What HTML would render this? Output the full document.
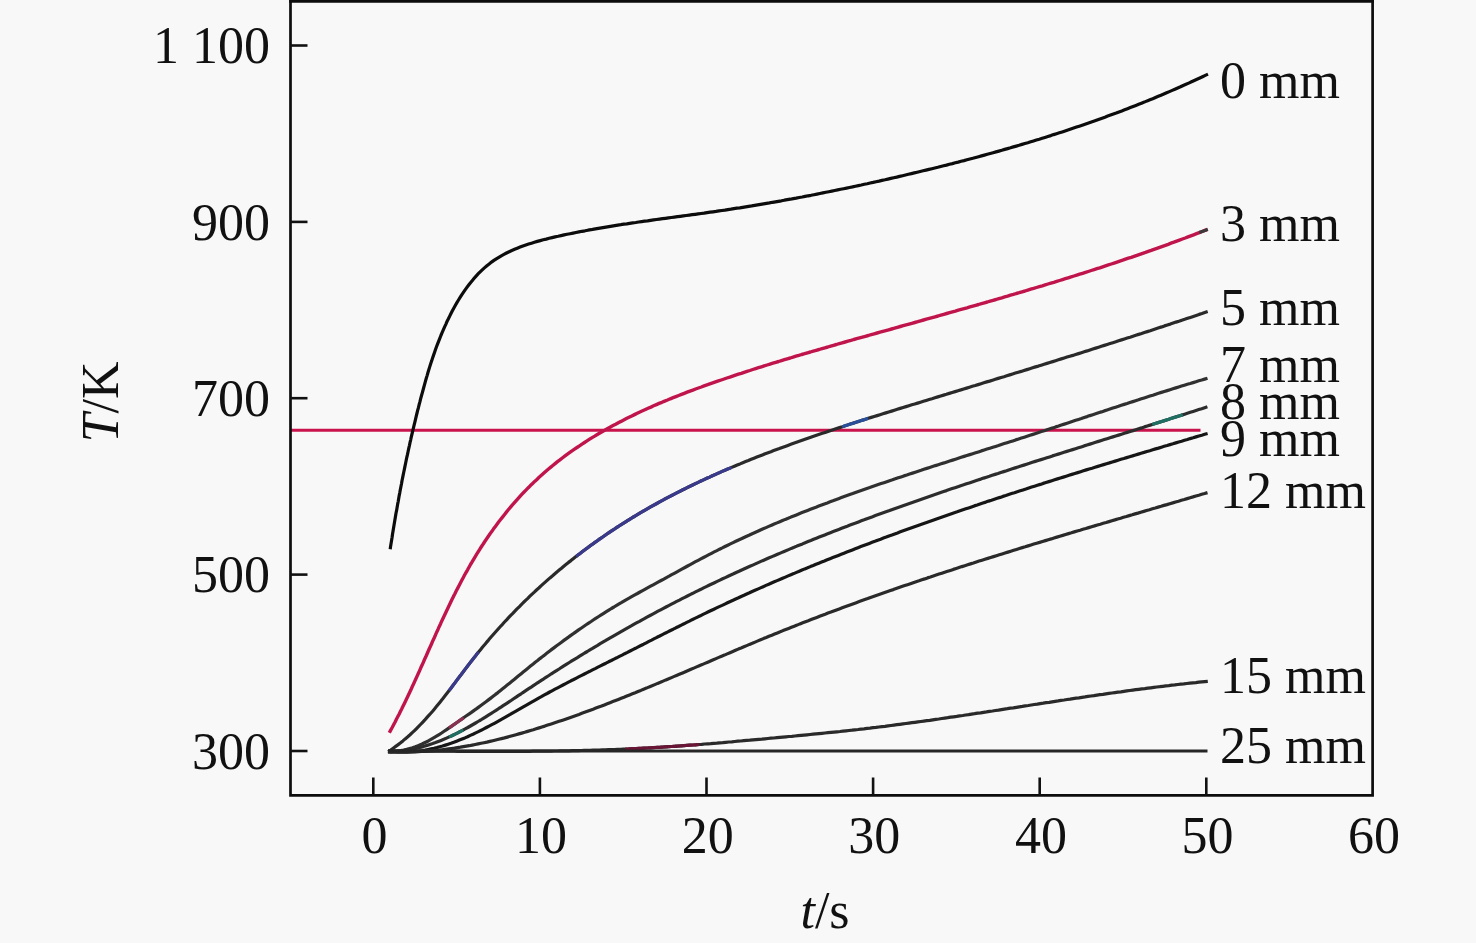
<!DOCTYPE html>
<html><head><meta charset="utf-8"><title>T-t curves</title>
<style>
html,body{margin:0;padding:0;background:#f8f8f8;}
body{width:1476px;height:943px;overflow:hidden;}
svg{display:block;}
text{font-family:"Liberation Serif","Times New Roman",serif;font-size:52px;fill:#111;}
</style></head><body>
<svg width="1476" height="943" viewBox="0 0 1476 943">
<rect width="1476" height="943" fill="#f8f8f8"/>
<g fill="none" stroke-linecap="butt" stroke-linejoin="round">
<path d="M290 430.2 H1200.5" stroke="#c9134d" stroke-width="3"/>
<path d="M390.2 549.3 L390.6 546.3 L391.1 543.3 L391.6 540.3 L392.1 537.3 L392.5 534.3 L393.0 531.3 L393.5 528.3 L394.0 525.3 L394.5 522.3 L395.0 519.3 L395.5 516.3 L396.0 513.3 L396.6 510.4 L397.1 507.4 L397.6 504.4 L398.2 501.5 L398.7 498.5 L399.2 495.6 L399.8 492.6 L400.3 489.7 L400.9 486.7 L401.5 483.8 L402.0 480.8 L402.6 477.9 L403.2 474.9 L403.8 472.0 L404.4 469.1 L405.0 466.1 L405.6 463.2 L406.2 460.3 L406.8 457.3 L407.5 454.4 L408.1 451.5 L408.7 448.6 L409.4 445.6 L410.0 442.7 L410.7 439.8 L411.3 436.9 L412.0 434.0 L412.7 431.0 L413.4 428.1 L414.1 425.2 L414.8 422.3 L415.5 419.4 L416.2 416.4 L416.9 413.5 L417.6 410.6 L418.4 407.7 L419.1 404.8 L419.9 401.9 L420.6 398.9 L421.4 396.0 L422.2 393.1 L423.0 390.2 L423.8 387.3 L424.6 384.3 L425.4 381.4 L426.2 378.5 L427.1 375.6 L427.9 372.7 L428.8 369.8 L429.7 366.9 L430.6 364.0 L431.6 361.1 L432.5 358.2 L433.5 355.4 L434.5 352.5 L435.5 349.6 L436.5 346.8 L437.6 343.9 L438.7 341.1 L439.8 338.3 L440.9 335.5 L442.1 332.7 L443.3 329.9 L444.5 327.1 L445.8 324.3 L447.0 321.5 L448.4 318.8 L449.7 316.1 L451.1 313.3 L452.5 310.6 L453.9 308.0 L455.4 305.3 L456.9 302.6 L458.5 300.0 L460.1 297.4 L461.7 294.9 L463.4 292.4 L465.1 289.9 L466.9 287.4 L468.7 285.0 L470.5 282.7 L472.4 280.4 L474.3 278.1 L476.3 275.9 L478.3 273.7 L480.4 271.6 L482.5 269.6 L484.7 267.6 L486.9 265.7 L489.2 263.9 L491.5 262.1 L493.9 260.4 L496.3 258.8 L498.8 257.3 L501.3 255.8 L503.9 254.4 L506.5 253.0 L509.2 251.7 L511.8 250.5 L514.6 249.3 L517.3 248.2 L520.1 247.1 L522.9 246.0 L525.8 245.0 L528.6 244.1 L531.5 243.2 L534.4 242.3 L537.3 241.4 L540.3 240.6 L543.2 239.8 L546.2 239.1 L549.2 238.3 L552.1 237.6 L555.1 236.9 L558.1 236.3 L561.1 235.6 L564.1 234.9 L567.1 234.3 L570.1 233.7 L573.1 233.1 L576.0 232.5 L579.0 231.9 L582.0 231.3 L585.0 230.8 L588.0 230.2 L591.0 229.7 L594.0 229.1 L596.9 228.6 L599.9 228.1 L602.9 227.6 L605.9 227.1 L608.9 226.6 L611.9 226.1 L614.8 225.6 L617.8 225.1 L620.8 224.7 L623.8 224.2 L626.8 223.8 L629.7 223.3 L632.7 222.9 L635.7 222.5 L638.7 222.0 L641.6 221.6 L644.6 221.2 L647.6 220.8 L650.6 220.3 L653.6 219.9 L656.5 219.5 L659.5 219.1 L662.5 218.7 L665.5 218.3 L668.4 217.9 L671.4 217.5 L674.4 217.1 L677.4 216.7 L680.3 216.3 L683.3 215.9 L686.3 215.5 L689.3 215.1 L692.2 214.7 L695.2 214.3 L698.2 213.9 L701.2 213.5 L704.1 213.1 L707.1 212.6 L710.1 212.2 L713.1 211.8 L716.0 211.4 L719.0 210.9 L722.0 210.5 L724.9 210.1 L727.9 209.6 L730.9 209.2 L733.9 208.7 L736.8 208.2 L739.8 207.8 L742.8 207.3 L745.7 206.8 L748.7 206.3 L751.7 205.9 L754.7 205.4 L757.6 204.9 L760.6 204.4 L763.6 203.9 L766.5 203.4 L769.5 202.9 L772.5 202.3 L775.5 201.8 L778.4 201.3 L781.4 200.8 L784.4 200.2 L787.3 199.7 L790.3 199.2 L793.3 198.6 L796.2 198.1 L799.2 197.5 L802.2 197.0 L805.1 196.4 L808.1 195.8 L811.0 195.3 L814.0 194.7 L817.0 194.1 L819.9 193.5 L822.9 192.9 L825.9 192.3 L828.8 191.7 L831.8 191.1 L834.7 190.5 L837.7 189.9 L840.6 189.3 L843.6 188.7 L846.6 188.1 L849.5 187.5 L852.5 186.9 L855.4 186.2 L858.4 185.6 L861.3 185.0 L864.3 184.3 L867.2 183.7 L870.2 183.0 L873.1 182.4 L876.1 181.7 L879.0 181.1 L882.0 180.4 L884.9 179.8 L887.9 179.1 L890.8 178.4 L893.7 177.7 L896.7 177.1 L899.6 176.4 L902.6 175.7 L905.5 175.0 L908.4 174.3 L911.4 173.6 L914.3 172.9 L917.2 172.2 L920.2 171.5 L923.1 170.8 L926.0 170.1 L929.0 169.4 L931.9 168.7 L934.8 168.0 L937.8 167.3 L940.7 166.5 L943.6 165.8 L946.5 165.1 L949.4 164.3 L952.4 163.6 L955.3 162.8 L958.2 162.1 L961.1 161.3 L964.0 160.6 L966.9 159.8 L969.9 159.0 L972.8 158.3 L975.7 157.5 L978.6 156.7 L981.5 155.9 L984.4 155.1 L987.3 154.3 L990.2 153.5 L993.1 152.7 L996.0 151.9 L998.9 151.1 L1001.8 150.3 L1004.7 149.4 L1007.6 148.6 L1010.5 147.8 L1013.4 146.9 L1016.3 146.1 L1019.1 145.3 L1022.0 144.4 L1024.9 143.5 L1027.8 142.7 L1030.7 141.8 L1033.5 140.9 L1036.4 140.0 L1039.3 139.2 L1042.2 138.3 L1045.0 137.4 L1047.9 136.5 L1050.8 135.6 L1053.6 134.6 L1056.5 133.7 L1059.4 132.8 L1062.2 131.9 L1065.1 130.9 L1067.9 130.0 L1070.8 129.0 L1073.6 128.1 L1076.5 127.1 L1079.3 126.2 L1082.2 125.2 L1085.0 124.2 L1087.9 123.2 L1090.7 122.2 L1093.6 121.2 L1096.4 120.2 L1099.2 119.2 L1102.1 118.2 L1104.9 117.2 L1107.7 116.1 L1110.5 115.1 L1113.4 114.0 L1116.2 113.0 L1119.0 111.9 L1121.8 110.9 L1124.6 109.8 L1127.5 108.7 L1130.3 107.6 L1133.1 106.5 L1135.9 105.4 L1138.7 104.3 L1141.5 103.2 L1144.3 102.1 L1147.1 100.9 L1149.9 99.8 L1152.7 98.7 L1155.5 97.5 L1158.3 96.3 L1161.0 95.2 L1163.8 94.0 L1166.6 92.8 L1169.4 91.6 L1172.2 90.4 L1174.9 89.2 L1177.7 88.0 L1180.5 86.8 L1183.2 85.5 L1186.0 84.3 L1188.7 83.1 L1191.5 81.8 L1194.3 80.5 L1197.0 79.3 L1199.8 78.0 L1202.5 76.7 L1205.3 75.4 L1208.0 74.1" stroke="#0c0c0c" stroke-width="3.2"/>
<path d="M389.3 732.8 L390.7 730.1 L392.2 727.5 L393.6 724.8 L395.0 722.2 L396.3 719.5 L397.7 716.8 L399.1 714.2 L400.4 711.5 L401.8 708.8 L403.1 706.1 L404.4 703.4 L405.7 700.7 L407.0 698.0 L408.3 695.2 L409.6 692.5 L410.9 689.8 L412.1 687.0 L413.4 684.3 L414.6 681.6 L415.9 678.8 L417.1 676.1 L418.4 673.3 L419.6 670.6 L420.8 667.8 L422.1 665.1 L423.3 662.3 L424.5 659.5 L425.8 656.8 L427.0 654.0 L428.2 651.3 L429.4 648.5 L430.7 645.7 L431.9 643.0 L433.1 640.2 L434.4 637.5 L435.6 634.7 L436.8 631.9 L438.1 629.2 L439.3 626.4 L440.6 623.7 L441.8 620.9 L443.1 618.2 L444.4 615.5 L445.7 612.7 L447.0 610.0 L448.3 607.3 L449.6 604.6 L450.9 601.8 L452.2 599.1 L453.5 596.4 L454.9 593.7 L456.2 591.0 L457.6 588.4 L459.0 585.7 L460.4 583.0 L461.8 580.3 L463.2 577.7 L464.6 575.0 L466.1 572.4 L467.6 569.8 L469.0 567.2 L470.5 564.5 L472.1 561.9 L473.6 559.3 L475.1 556.8 L476.7 554.2 L478.3 551.6 L479.9 549.1 L481.5 546.5 L483.2 544.0 L484.8 541.5 L486.5 539.0 L488.2 536.5 L489.9 534.0 L491.7 531.6 L493.4 529.1 L495.2 526.7 L497.0 524.3 L498.8 521.8 L500.6 519.5 L502.5 517.1 L504.4 514.7 L506.2 512.4 L508.1 510.0 L510.1 507.7 L512.0 505.4 L514.0 503.2 L516.0 500.9 L518.0 498.7 L520.0 496.4 L522.0 494.2 L524.1 492.0 L526.2 489.9 L528.3 487.7 L530.4 485.6 L532.6 483.5 L534.7 481.4 L536.9 479.4 L539.1 477.3 L541.4 475.3 L543.6 473.3 L545.9 471.3 L548.2 469.3 L550.5 467.4 L552.8 465.5 L555.1 463.6 L557.5 461.7 L559.9 459.9 L562.3 458.0 L564.7 456.2 L567.1 454.4 L569.5 452.7 L572.0 450.9 L574.5 449.2 L577.0 447.5 L579.5 445.8 L582.0 444.1 L584.5 442.5 L587.0 440.9 L589.6 439.2 L592.1 437.6 L594.7 436.1 L597.3 434.5 L599.9 433.0 L602.5 431.5 L605.1 430.0 L607.7 428.5 L610.4 427.0 L613.0 425.6 L615.7 424.2 L618.3 422.7 L621.0 421.4 L623.7 420.0 L626.4 418.6 L629.0 417.3 L631.8 415.9 L634.5 414.6 L637.2 413.3 L639.9 412.0 L642.6 410.8 L645.4 409.5 L648.1 408.3 L650.9 407.1 L653.6 405.8 L656.4 404.6 L659.1 403.4 L661.9 402.3 L664.7 401.1 L667.5 400.0 L670.3 398.8 L673.1 397.7 L675.9 396.6 L678.7 395.5 L681.5 394.4 L684.3 393.3 L687.1 392.2 L690.0 391.1 L692.8 390.1 L695.6 389.0 L698.4 388.0 L701.3 387.0 L704.1 385.9 L707.0 384.9 L709.8 383.9 L712.7 382.9 L715.5 381.9 L718.4 380.9 L721.2 380.0 L724.1 379.0 L726.9 378.0 L729.8 377.1 L732.7 376.1 L735.5 375.1 L738.4 374.2 L741.3 373.3 L744.1 372.3 L747.0 371.4 L749.9 370.5 L752.7 369.5 L755.6 368.6 L758.5 367.7 L761.4 366.8 L764.2 365.9 L767.1 365.0 L770.0 364.1 L772.9 363.2 L775.8 362.3 L778.6 361.5 L781.5 360.6 L784.4 359.7 L787.3 358.8 L790.2 358.0 L793.1 357.1 L795.9 356.2 L798.8 355.4 L801.7 354.5 L804.6 353.7 L807.5 352.8 L810.4 352.0 L813.3 351.1 L816.2 350.3 L819.1 349.5 L822.0 348.6 L824.9 347.8 L827.8 347.0 L830.7 346.1 L833.5 345.3 L836.4 344.5 L839.3 343.6 L842.2 342.8 L845.1 342.0 L848.0 341.2 L850.9 340.4 L853.8 339.5 L856.7 338.7 L859.6 337.9 L862.5 337.1 L865.4 336.3 L868.3 335.5 L871.2 334.6 L874.2 333.8 L877.1 333.0 L880.0 332.2 L882.9 331.4 L885.8 330.6 L888.7 329.8 L891.6 329.0 L894.5 328.2 L897.4 327.3 L900.3 326.5 L903.2 325.7 L906.1 324.9 L909.0 324.1 L911.9 323.3 L914.8 322.5 L917.7 321.7 L920.6 320.8 L923.5 320.0 L926.4 319.2 L929.3 318.4 L932.2 317.6 L935.1 316.8 L938.0 316.0 L940.9 315.1 L943.8 314.3 L946.7 313.5 L949.6 312.7 L952.5 311.9 L955.4 311.1 L958.3 310.2 L961.2 309.4 L964.1 308.6 L967.0 307.8 L969.9 306.9 L972.8 306.1 L975.7 305.3 L978.6 304.5 L981.5 303.6 L984.4 302.8 L987.3 302.0 L990.2 301.1 L993.1 300.3 L996.0 299.5 L998.9 298.6 L1001.8 297.8 L1004.7 296.9 L1007.6 296.1 L1010.5 295.2 L1013.4 294.4 L1016.3 293.5 L1019.2 292.7 L1022.1 291.8 L1025.0 291.0 L1027.8 290.1 L1030.7 289.2 L1033.6 288.4 L1036.5 287.5 L1039.4 286.6 L1042.3 285.8 L1045.2 284.9 L1048.0 284.0 L1050.9 283.1 L1053.8 282.3 L1056.7 281.4 L1059.6 280.5 L1062.5 279.6 L1065.3 278.7 L1068.2 277.8 L1071.1 276.9 L1074.0 276.0 L1076.8 275.1 L1079.7 274.2 L1082.6 273.3 L1085.5 272.4 L1088.3 271.5 L1091.2 270.5 L1094.1 269.6 L1096.9 268.7 L1099.8 267.8 L1102.7 266.8 L1105.5 265.9 L1108.4 264.9 L1111.3 264.0 L1114.1 263.1 L1117.0 262.1 L1119.8 261.1 L1122.7 260.2 L1125.5 259.2 L1128.4 258.2 L1131.3 257.3 L1134.1 256.3 L1137.0 255.3 L1139.8 254.3 L1142.7 253.3 L1145.5 252.4 L1148.3 251.4 L1151.2 250.4 L1154.0 249.3 L1156.9 248.3 L1159.7 247.3 L1162.5 246.3 L1165.4 245.3 L1168.2 244.3 L1171.0 243.2 L1173.9 242.2 L1176.7 241.1 L1179.5 240.1 L1182.4 239.0 L1185.2 238.0 L1188.0 236.9 L1190.8 235.8 L1193.6 234.8 L1196.5 233.7 L1199.3 232.6 L1202.1 231.5 L1204.9 230.4 L1207.7 229.3" stroke="#c0154c" stroke-width="3.4"/>
<path d="M388.2 751.7 L390.7 750.0 L393.2 748.2 L395.7 746.4 L398.2 744.6 L400.6 742.8 L402.9 740.9 L405.2 738.9 L407.5 737.0 L409.8 735.0 L412.0 732.9 L414.2 730.9 L416.3 728.8 L418.4 726.7 L420.5 724.5 L422.6 722.3 L424.6 720.2 L426.6 717.9 L428.6 715.7 L430.6 713.5 L432.6 711.2 L434.5 708.9 L436.4 706.6 L438.3 704.3 L440.2 701.9 L442.1 699.6 L443.9 697.2 L445.8 694.8 L447.6 692.5 L449.5 690.1 L451.3 687.7 L453.1 685.3 L454.9 682.9 L456.7 680.4 L458.5 678.0 L460.4 675.6 L462.2 673.2 L464.0 670.8 L465.8 668.4 L467.6 666.0 L469.5 663.6 L471.3 661.2 L473.2 658.8 L475.1 656.4 L476.9 654.1 L478.8 651.7 L480.7 649.4 L482.6 647.0 L484.6 644.7 L486.5 642.4 L488.5 640.1 L490.4 637.8 L492.4 635.5 L494.4 633.2 L496.4 631.0 L498.4 628.7 L500.4 626.5 L502.5 624.3 L504.5 622.0 L506.6 619.8 L508.6 617.6 L510.7 615.4 L512.8 613.3 L514.9 611.1 L517.0 608.9 L519.2 606.8 L521.3 604.7 L523.4 602.5 L525.6 600.4 L527.8 598.3 L529.9 596.2 L532.1 594.1 L534.3 592.1 L536.5 590.0 L538.8 588.0 L541.0 585.9 L543.2 583.9 L545.5 581.9 L547.7 579.9 L550.0 577.9 L552.3 576.0 L554.6 574.0 L556.9 572.0 L559.2 570.1 L561.5 568.2 L563.8 566.2 L566.2 564.3 L568.5 562.4 L570.9 560.6 L573.2 558.7 L575.6 556.8 L578.0 555.0 L580.4 553.2 L582.8 551.3 L585.2 549.5 L587.6 547.7 L590.0 545.9 L592.5 544.2 L594.9 542.4 L597.4 540.7 L599.8 538.9 L602.3 537.2 L604.8 535.5 L607.3 533.8 L609.7 532.1 L612.2 530.4 L614.8 528.8 L617.3 527.1 L619.8 525.5 L622.3 523.9 L624.9 522.3 L627.4 520.7 L630.0 519.1 L632.5 517.5 L635.1 516.0 L637.7 514.4 L640.2 512.9 L642.8 511.4 L645.4 509.9 L648.0 508.4 L650.6 506.9 L653.3 505.4 L655.9 504.0 L658.5 502.5 L661.1 501.1 L663.8 499.7 L666.4 498.2 L669.1 496.8 L671.7 495.5 L674.4 494.1 L677.1 492.7 L679.8 491.3 L682.4 490.0 L685.1 488.7 L687.8 487.3 L690.5 486.0 L693.2 484.7 L695.9 483.4 L698.7 482.1 L701.4 480.8 L704.1 479.6 L706.8 478.3 L709.6 477.1 L712.3 475.8 L715.1 474.6 L717.8 473.4 L720.6 472.1 L723.3 470.9 L726.1 469.7 L728.9 468.6 L731.6 467.4 L734.4 466.2 L737.2 465.0 L740.0 463.9 L742.8 462.7 L745.6 461.6 L748.4 460.5 L751.2 459.3 L754.0 458.2 L756.8 457.1 L759.6 456.0 L762.4 454.9 L765.2 453.8 L768.1 452.7 L770.9 451.7 L773.7 450.6 L776.6 449.5 L779.4 448.5 L782.2 447.4 L785.1 446.4 L787.9 445.4 L790.8 444.3 L793.6 443.3 L796.5 442.3 L799.3 441.3 L802.2 440.3 L805.0 439.3 L807.9 438.3 L810.8 437.3 L813.6 436.3 L816.5 435.3 L819.4 434.3 L822.3 433.3 L825.1 432.4 L828.0 431.4 L830.9 430.5 L833.8 429.5 L836.6 428.5 L839.5 427.6 L842.4 426.7 L845.3 425.7 L848.2 424.8 L851.1 423.8 L854.0 422.9 L856.8 422.0 L859.7 421.1 L862.6 420.1 L865.5 419.2 L868.4 418.3 L871.3 417.4 L874.2 416.5 L877.1 415.6 L880.0 414.7 L882.9 413.8 L885.8 412.9 L888.7 412.0 L891.6 411.1 L894.4 410.2 L897.3 409.3 L900.2 408.4 L903.1 407.5 L906.0 406.6 L908.9 405.7 L911.8 404.8 L914.7 404.0 L917.6 403.1 L920.5 402.2 L923.4 401.3 L926.2 400.4 L929.1 399.5 L932.0 398.7 L934.9 397.8 L937.8 396.9 L940.7 396.0 L943.6 395.1 L946.4 394.3 L949.3 393.4 L952.2 392.5 L955.1 391.6 L958.0 390.7 L960.8 389.9 L963.7 389.0 L966.6 388.1 L969.5 387.2 L972.3 386.3 L975.2 385.5 L978.1 384.6 L981.0 383.7 L983.8 382.8 L986.7 381.9 L989.6 381.1 L992.5 380.2 L995.3 379.3 L998.2 378.4 L1001.1 377.5 L1004.0 376.7 L1006.8 375.8 L1009.7 374.9 L1012.6 374.0 L1015.4 373.1 L1018.3 372.2 L1021.2 371.4 L1024.0 370.5 L1026.9 369.6 L1029.8 368.7 L1032.6 367.8 L1035.5 366.9 L1038.4 366.1 L1041.2 365.2 L1044.1 364.3 L1047.0 363.4 L1049.8 362.5 L1052.7 361.6 L1055.6 360.7 L1058.4 359.8 L1061.3 358.9 L1064.2 358.0 L1067.0 357.1 L1069.9 356.2 L1072.8 355.4 L1075.6 354.5 L1078.5 353.6 L1081.4 352.7 L1084.2 351.8 L1087.1 350.9 L1090.0 349.9 L1092.8 349.0 L1095.7 348.1 L1098.6 347.2 L1101.4 346.3 L1104.3 345.4 L1107.2 344.5 L1110.0 343.6 L1112.9 342.7 L1115.8 341.8 L1118.6 340.8 L1121.5 339.9 L1124.4 339.0 L1127.2 338.1 L1130.1 337.2 L1133.0 336.2 L1135.8 335.3 L1138.7 334.4 L1141.6 333.5 L1144.4 332.5 L1147.3 331.6 L1150.2 330.7 L1153.1 329.7 L1155.9 328.8 L1158.8 327.8 L1161.7 326.9 L1164.5 325.9 L1167.4 325.0 L1170.3 324.1 L1173.2 323.1 L1176.0 322.1 L1178.9 321.2 L1181.8 320.2 L1184.7 319.3 L1187.6 318.3 L1190.4 317.4 L1193.3 316.4 L1196.2 315.4 L1199.1 314.4 L1202.0 313.5 L1204.8 312.5 L1207.7 311.5" stroke="#2a2a2a" stroke-width="3.2"/>
<path d="M388.0 751.5 L391.3 751.5 L394.5 751.3 L397.6 751.0 L400.7 750.6 L403.7 750.1 L406.7 749.4 L409.6 748.6 L412.5 747.8 L415.3 746.8 L418.1 745.7 L420.8 744.6 L423.5 743.3 L426.2 742.0 L428.8 740.7 L431.4 739.2 L434.0 737.7 L436.5 736.2 L439.1 734.6 L441.6 733.0 L444.1 731.3 L446.6 729.6 L449.1 727.9 L451.6 726.2 L454.0 724.5 L456.5 722.7 L459.0 721.0 L461.5 719.3 L463.9 717.5 L466.4 715.8 L468.9 714.1 L471.4 712.4 L473.8 710.6 L476.3 708.9 L478.7 707.1 L481.2 705.3 L483.6 703.5 L486.0 701.7 L488.4 699.9 L490.8 698.1 L493.1 696.3 L495.5 694.4 L497.9 692.6 L500.2 690.7 L502.6 688.8 L504.9 686.9 L507.2 685.1 L509.6 683.2 L511.9 681.3 L514.2 679.4 L516.5 677.5 L518.9 675.6 L521.2 673.7 L523.5 671.8 L525.8 669.9 L528.2 668.0 L530.5 666.1 L532.9 664.2 L535.2 662.3 L537.6 660.5 L539.9 658.6 L542.3 656.8 L544.7 654.9 L547.0 653.1 L549.4 651.2 L551.8 649.4 L554.2 647.6 L556.6 645.8 L559.1 644.0 L561.5 642.2 L563.9 640.4 L566.4 638.6 L568.8 636.9 L571.2 635.1 L573.7 633.4 L576.2 631.6 L578.6 629.9 L581.1 628.2 L583.6 626.5 L586.1 624.8 L588.6 623.1 L591.1 621.5 L593.6 619.8 L596.1 618.1 L598.7 616.5 L601.2 614.9 L603.7 613.3 L606.3 611.7 L608.8 610.1 L611.4 608.5 L614.0 607.0 L616.6 605.4 L619.1 603.9 L621.7 602.4 L624.3 600.8 L626.9 599.3 L629.5 597.9 L632.1 596.4 L634.8 594.9 L637.4 593.5 L640.0 592.0 L642.6 590.6 L645.3 589.1 L647.9 587.7 L650.6 586.2 L653.2 584.8 L655.8 583.4 L658.5 581.9 L661.1 580.5 L663.8 579.1 L666.4 577.6 L669.1 576.2 L671.7 574.7 L674.3 573.3 L677.0 571.8 L679.6 570.4 L682.3 568.9 L684.9 567.5 L687.6 566.0 L690.2 564.6 L692.9 563.1 L695.5 561.7 L698.2 560.3 L700.8 558.9 L703.5 557.5 L706.2 556.1 L708.9 554.7 L711.5 553.3 L714.2 551.9 L716.9 550.6 L719.6 549.2 L722.3 547.9 L725.0 546.5 L727.7 545.2 L730.4 543.9 L733.1 542.6 L735.8 541.3 L738.6 540.0 L741.3 538.8 L744.0 537.5 L746.7 536.2 L749.5 535.0 L752.2 533.7 L755.0 532.5 L757.7 531.3 L760.4 530.0 L763.2 528.8 L766.0 527.6 L768.7 526.4 L771.5 525.2 L774.2 524.1 L777.0 522.9 L779.8 521.7 L782.5 520.6 L785.3 519.4 L788.1 518.3 L790.9 517.1 L793.7 516.0 L796.4 514.9 L799.2 513.7 L802.0 512.6 L804.8 511.5 L807.6 510.4 L810.4 509.3 L813.2 508.2 L816.0 507.2 L818.8 506.1 L821.6 505.0 L824.4 503.9 L827.3 502.9 L830.1 501.8 L832.9 500.8 L835.7 499.7 L838.5 498.7 L841.4 497.6 L844.2 496.6 L847.0 495.6 L849.8 494.6 L852.7 493.6 L855.5 492.5 L858.3 491.5 L861.2 490.5 L864.0 489.5 L866.9 488.5 L869.7 487.6 L872.5 486.6 L875.4 485.6 L878.2 484.6 L881.1 483.6 L883.9 482.7 L886.8 481.7 L889.6 480.7 L892.5 479.8 L895.3 478.8 L898.2 477.8 L901.0 476.9 L903.9 475.9 L906.8 475.0 L909.6 474.0 L912.5 473.1 L915.3 472.2 L918.2 471.2 L921.1 470.3 L923.9 469.3 L926.8 468.4 L929.7 467.5 L932.5 466.6 L935.4 465.6 L938.3 464.7 L941.1 463.8 L944.0 462.9 L946.9 461.9 L949.7 461.0 L952.6 460.1 L955.5 459.2 L958.3 458.3 L961.2 457.3 L964.1 456.4 L966.9 455.5 L969.8 454.6 L972.7 453.7 L975.6 452.8 L978.4 451.9 L981.3 450.9 L984.2 450.0 L987.0 449.1 L989.9 448.2 L992.8 447.3 L995.6 446.4 L998.5 445.5 L1001.4 444.5 L1004.2 443.6 L1007.1 442.7 L1010.0 441.8 L1012.8 440.9 L1015.7 439.9 L1018.6 439.0 L1021.4 438.1 L1024.3 437.2 L1027.1 436.3 L1030.0 435.3 L1032.9 434.4 L1035.7 433.5 L1038.6 432.5 L1041.4 431.6 L1044.3 430.7 L1047.1 429.7 L1050.0 428.8 L1052.9 427.9 L1055.7 426.9 L1058.6 426.0 L1061.4 425.0 L1064.3 424.1 L1067.1 423.2 L1070.0 422.2 L1072.8 421.3 L1075.7 420.3 L1078.5 419.4 L1081.4 418.5 L1084.2 417.5 L1087.1 416.6 L1089.9 415.6 L1092.8 414.7 L1095.6 413.8 L1098.5 412.8 L1101.4 411.9 L1104.2 410.9 L1107.1 410.0 L1109.9 409.1 L1112.8 408.1 L1115.6 407.2 L1118.5 406.3 L1121.3 405.3 L1124.2 404.4 L1127.1 403.5 L1129.9 402.5 L1132.8 401.6 L1135.6 400.7 L1138.5 399.8 L1141.4 398.8 L1144.2 397.9 L1147.1 397.0 L1149.9 396.1 L1152.8 395.2 L1155.7 394.2 L1158.5 393.3 L1161.4 392.4 L1164.3 391.5 L1167.2 390.6 L1170.0 389.7 L1172.9 388.8 L1175.8 387.9 L1178.7 387.0 L1181.5 386.1 L1184.4 385.2 L1187.3 384.3 L1190.2 383.5 L1193.1 382.6 L1196.0 381.7 L1198.8 380.8 L1201.7 380.0 L1204.6 379.1 L1207.5 378.2" stroke="#303030" stroke-width="3.2"/>
<path d="M388.1 751.9 L391.3 751.8 L394.4 751.6 L397.5 751.4 L400.6 751.1 L403.6 750.7 L406.6 750.2 L409.6 749.7 L412.6 749.1 L415.5 748.5 L418.5 747.8 L421.4 747.1 L424.2 746.3 L427.1 745.4 L429.9 744.5 L432.7 743.6 L435.5 742.6 L438.3 741.5 L441.1 740.4 L443.8 739.3 L446.5 738.1 L449.2 736.9 L451.9 735.7 L454.6 734.4 L457.3 733.1 L459.9 731.7 L462.5 730.3 L465.2 728.9 L467.8 727.5 L470.4 726.0 L473.0 724.5 L475.6 723.0 L478.1 721.5 L480.7 720.0 L483.3 718.4 L485.8 716.8 L488.4 715.2 L490.9 713.6 L493.4 712.0 L496.0 710.4 L498.5 708.7 L501.0 707.1 L503.5 705.4 L506.0 703.8 L508.6 702.1 L511.1 700.5 L513.6 698.8 L516.1 697.1 L518.6 695.4 L521.1 693.8 L523.6 692.1 L526.1 690.4 L528.7 688.7 L531.2 687.1 L533.7 685.4 L536.2 683.7 L538.7 682.1 L541.3 680.4 L543.8 678.8 L546.3 677.1 L548.9 675.5 L551.4 673.8 L554.0 672.2 L556.5 670.6 L559.1 669.0 L561.6 667.3 L564.2 665.7 L566.7 664.1 L569.3 662.5 L571.8 660.9 L574.4 659.3 L577.0 657.8 L579.6 656.2 L582.1 654.6 L584.7 653.0 L587.3 651.5 L589.9 649.9 L592.5 648.4 L595.0 646.8 L597.6 645.3 L600.2 643.7 L602.8 642.2 L605.4 640.7 L608.0 639.1 L610.6 637.6 L613.3 636.1 L615.9 634.6 L618.5 633.1 L621.1 631.6 L623.7 630.1 L626.3 628.6 L629.0 627.1 L631.6 625.7 L634.2 624.2 L636.9 622.7 L639.5 621.3 L642.1 619.8 L644.8 618.4 L647.4 616.9 L650.1 615.5 L652.7 614.1 L655.4 612.6 L658.0 611.2 L660.7 609.8 L663.4 608.4 L666.0 607.0 L668.7 605.6 L671.4 604.2 L674.0 602.8 L676.7 601.4 L679.4 600.1 L682.1 598.7 L684.8 597.3 L687.4 596.0 L690.1 594.6 L692.8 593.3 L695.5 591.9 L698.2 590.6 L700.9 589.3 L703.6 587.9 L706.3 586.6 L709.0 585.3 L711.7 584.0 L714.5 582.7 L717.2 581.4 L719.9 580.1 L722.6 578.8 L725.3 577.6 L728.1 576.3 L730.8 575.0 L733.5 573.8 L736.2 572.5 L739.0 571.3 L741.7 570.0 L744.4 568.8 L747.2 567.5 L749.9 566.3 L752.7 565.1 L755.4 563.9 L758.2 562.6 L760.9 561.4 L763.7 560.2 L766.4 559.0 L769.2 557.8 L772.0 556.6 L774.7 555.5 L777.5 554.3 L780.3 553.1 L783.0 551.9 L785.8 550.8 L788.6 549.6 L791.3 548.4 L794.1 547.3 L796.9 546.1 L799.7 545.0 L802.5 543.9 L805.2 542.7 L808.0 541.6 L810.8 540.5 L813.6 539.3 L816.4 538.2 L819.2 537.1 L822.0 536.0 L824.8 534.9 L827.6 533.8 L830.4 532.7 L833.2 531.6 L836.0 530.5 L838.8 529.4 L841.6 528.3 L844.4 527.2 L847.2 526.2 L850.0 525.1 L852.9 524.0 L855.7 523.0 L858.5 521.9 L861.3 520.8 L864.1 519.8 L866.9 518.7 L869.8 517.7 L872.6 516.7 L875.4 515.6 L878.2 514.6 L881.1 513.5 L883.9 512.5 L886.7 511.5 L889.6 510.5 L892.4 509.4 L895.2 508.4 L898.1 507.4 L900.9 506.4 L903.7 505.4 L906.6 504.4 L909.4 503.4 L912.3 502.4 L915.1 501.4 L918.0 500.4 L920.8 499.4 L923.6 498.4 L926.5 497.4 L929.3 496.4 L932.2 495.4 L935.0 494.5 L937.9 493.5 L940.7 492.5 L943.6 491.5 L946.5 490.6 L949.3 489.6 L952.2 488.6 L955.0 487.7 L957.9 486.7 L960.7 485.7 L963.6 484.8 L966.5 483.8 L969.3 482.9 L972.2 481.9 L975.0 481.0 L977.9 480.0 L980.8 479.1 L983.6 478.1 L986.5 477.2 L989.4 476.3 L992.2 475.3 L995.1 474.4 L998.0 473.5 L1000.8 472.5 L1003.7 471.6 L1006.6 470.7 L1009.4 469.7 L1012.3 468.8 L1015.2 467.9 L1018.0 467.0 L1020.9 466.0 L1023.8 465.1 L1026.6 464.2 L1029.5 463.3 L1032.4 462.3 L1035.3 461.4 L1038.1 460.5 L1041.0 459.6 L1043.9 458.7 L1046.8 457.8 L1049.6 456.9 L1052.5 455.9 L1055.4 455.0 L1058.3 454.1 L1061.1 453.2 L1064.0 452.3 L1066.9 451.4 L1069.7 450.5 L1072.6 449.6 L1075.5 448.7 L1078.4 447.8 L1081.2 446.9 L1084.1 445.9 L1087.0 445.0 L1089.9 444.1 L1092.7 443.2 L1095.6 442.3 L1098.5 441.4 L1101.4 440.5 L1104.2 439.6 L1107.1 438.7 L1110.0 437.8 L1112.9 436.9 L1115.7 436.0 L1118.6 435.1 L1121.5 434.2 L1124.3 433.3 L1127.2 432.4 L1130.1 431.5 L1133.0 430.6 L1135.8 429.7 L1138.7 428.8 L1141.6 427.9 L1144.4 426.9 L1147.3 426.0 L1150.2 425.1 L1153.0 424.2 L1155.9 423.3 L1158.8 422.4 L1161.6 421.5 L1164.5 420.6 L1167.4 419.7 L1170.2 418.8 L1173.1 417.8 L1176.0 416.9 L1178.8 416.0 L1181.7 415.1 L1184.6 414.2 L1187.4 413.3 L1190.3 412.3 L1193.1 411.4 L1196.0 410.5 L1198.8 409.6 L1201.7 408.7 L1204.6 407.7 L1207.4 406.8" stroke="#2c2c2c" stroke-width="3.2"/>
<path d="M388.0 751.6 L391.2 751.9 L394.4 752.0 L397.6 752.2 L400.7 752.2 L403.9 752.2 L407.0 752.1 L410.0 751.9 L413.1 751.7 L416.1 751.4 L419.1 751.0 L422.1 750.6 L425.1 750.1 L428.1 749.5 L431.0 748.9 L433.9 748.3 L436.8 747.6 L439.7 746.8 L442.5 746.0 L445.4 745.1 L448.2 744.2 L451.0 743.3 L453.8 742.3 L456.6 741.2 L459.4 740.1 L462.1 739.0 L464.9 737.9 L467.6 736.7 L470.3 735.4 L473.0 734.2 L475.7 732.9 L478.4 731.6 L481.1 730.3 L483.8 728.9 L486.4 727.5 L489.1 726.1 L491.8 724.7 L494.4 723.3 L497.1 721.8 L499.7 720.3 L502.3 718.9 L505.0 717.4 L507.6 715.9 L510.2 714.4 L512.8 712.8 L515.5 711.3 L518.1 709.8 L520.7 708.3 L523.3 706.8 L526.0 705.3 L528.6 703.8 L531.2 702.3 L533.9 700.8 L536.5 699.3 L539.1 697.8 L541.8 696.4 L544.4 694.9 L547.1 693.5 L549.7 692.0 L552.4 690.6 L555.0 689.2 L557.7 687.8 L560.4 686.4 L563.0 685.0 L565.7 683.6 L568.4 682.2 L571.0 680.8 L573.7 679.5 L576.4 678.1 L579.1 676.7 L581.7 675.4 L584.4 674.0 L587.1 672.6 L589.8 671.3 L592.5 669.9 L595.2 668.6 L597.9 667.2 L600.5 665.9 L603.2 664.5 L605.9 663.2 L608.6 661.8 L611.3 660.5 L614.0 659.1 L616.7 657.8 L619.4 656.4 L622.1 655.1 L624.7 653.7 L627.4 652.4 L630.1 651.0 L632.8 649.6 L635.5 648.3 L638.2 646.9 L640.9 645.5 L643.6 644.2 L646.3 642.8 L648.9 641.4 L651.6 640.1 L654.3 638.7 L657.0 637.3 L659.7 636.0 L662.4 634.6 L665.1 633.2 L667.8 631.9 L670.5 630.5 L673.2 629.2 L675.9 627.8 L678.6 626.5 L681.3 625.1 L684.0 623.8 L686.7 622.4 L689.4 621.1 L692.1 619.7 L694.8 618.4 L697.5 617.1 L700.3 615.8 L703.0 614.4 L705.7 613.1 L708.4 611.8 L711.1 610.5 L713.9 609.2 L716.6 607.9 L719.3 606.6 L722.1 605.4 L724.8 604.1 L727.5 602.8 L730.3 601.5 L733.0 600.3 L735.7 599.0 L738.5 597.8 L741.2 596.5 L744.0 595.3 L746.7 594.0 L749.5 592.8 L752.2 591.5 L755.0 590.3 L757.7 589.1 L760.5 587.9 L763.2 586.7 L766.0 585.4 L768.8 584.2 L771.5 583.0 L774.3 581.8 L777.1 580.6 L779.8 579.5 L782.6 578.3 L785.4 577.1 L788.1 575.9 L790.9 574.7 L793.7 573.6 L796.5 572.4 L799.3 571.2 L802.0 570.1 L804.8 568.9 L807.6 567.8 L810.4 566.6 L813.2 565.5 L816.0 564.3 L818.8 563.2 L821.6 562.1 L824.4 561.0 L827.2 559.8 L830.0 558.7 L832.8 557.6 L835.6 556.5 L838.4 555.4 L841.2 554.3 L844.0 553.2 L846.8 552.1 L849.6 551.0 L852.4 549.9 L855.2 548.8 L858.0 547.7 L860.8 546.6 L863.6 545.6 L866.5 544.5 L869.3 543.4 L872.1 542.3 L874.9 541.3 L877.7 540.2 L880.6 539.2 L883.4 538.1 L886.2 537.1 L889.0 536.0 L891.9 535.0 L894.7 533.9 L897.5 532.9 L900.3 531.8 L903.2 530.8 L906.0 529.8 L908.8 528.8 L911.7 527.7 L914.5 526.7 L917.4 525.7 L920.2 524.7 L923.0 523.7 L925.9 522.7 L928.7 521.7 L931.6 520.7 L934.4 519.7 L937.2 518.7 L940.1 517.7 L942.9 516.7 L945.8 515.7 L948.6 514.7 L951.5 513.7 L954.3 512.7 L957.2 511.8 L960.0 510.8 L962.9 509.8 L965.8 508.8 L968.6 507.9 L971.5 506.9 L974.3 505.9 L977.2 505.0 L980.0 504.0 L982.9 503.0 L985.8 502.1 L988.6 501.1 L991.5 500.2 L994.4 499.2 L997.2 498.3 L1000.1 497.4 L1002.9 496.4 L1005.8 495.5 L1008.7 494.5 L1011.5 493.6 L1014.4 492.7 L1017.3 491.7 L1020.2 490.8 L1023.0 489.9 L1025.9 489.0 L1028.8 488.0 L1031.6 487.1 L1034.5 486.2 L1037.4 485.3 L1040.3 484.4 L1043.1 483.4 L1046.0 482.5 L1048.9 481.6 L1051.8 480.7 L1054.6 479.8 L1057.5 478.9 L1060.4 478.0 L1063.3 477.1 L1066.2 476.2 L1069.0 475.3 L1071.9 474.4 L1074.8 473.5 L1077.7 472.6 L1080.6 471.7 L1083.4 470.8 L1086.3 469.9 L1089.2 469.0 L1092.1 468.2 L1095.0 467.3 L1097.9 466.4 L1100.7 465.5 L1103.6 464.6 L1106.5 463.7 L1109.4 462.9 L1112.3 462.0 L1115.2 461.1 L1118.0 460.2 L1120.9 459.3 L1123.8 458.5 L1126.7 457.6 L1129.6 456.7 L1132.5 455.9 L1135.4 455.0 L1138.3 454.1 L1141.1 453.2 L1144.0 452.4 L1146.9 451.5 L1149.8 450.7 L1152.7 449.8 L1155.6 448.9 L1158.5 448.1 L1161.4 447.2 L1164.2 446.3 L1167.1 445.5 L1170.0 444.6 L1172.9 443.8 L1175.8 442.9 L1178.7 442.0 L1181.6 441.2 L1184.5 440.3 L1187.4 439.5 L1190.2 438.6 L1193.1 437.8 L1196.0 436.9 L1198.9 436.0 L1201.8 435.2 L1204.7 434.3 L1207.6 433.5" stroke="#161616" stroke-width="3.2"/>
<path d="M387.9 751.7 L391.0 751.8 L394.0 751.9 L397.1 752.0 L400.2 752.0 L403.2 752.0 L406.3 752.0 L409.3 752.0 L412.4 751.9 L415.4 751.8 L418.5 751.6 L421.5 751.5 L424.5 751.3 L427.5 751.1 L430.5 750.9 L433.6 750.6 L436.6 750.3 L439.6 750.0 L442.6 749.7 L445.5 749.3 L448.5 748.9 L451.5 748.5 L454.5 748.1 L457.5 747.6 L460.4 747.2 L463.4 746.7 L466.4 746.2 L469.3 745.7 L472.3 745.1 L475.2 744.5 L478.1 743.9 L481.1 743.3 L484.0 742.7 L486.9 742.1 L489.9 741.4 L492.8 740.7 L495.7 740.0 L498.6 739.3 L501.5 738.6 L504.5 737.9 L507.4 737.1 L510.3 736.3 L513.2 735.5 L516.0 734.7 L518.9 733.9 L521.8 733.1 L524.7 732.3 L527.6 731.4 L530.5 730.5 L533.3 729.7 L536.2 728.8 L539.1 727.9 L541.9 727.0 L544.8 726.1 L547.7 725.1 L550.5 724.2 L553.4 723.2 L556.2 722.3 L559.1 721.3 L561.9 720.4 L564.8 719.4 L567.6 718.4 L570.5 717.4 L573.3 716.4 L576.1 715.4 L579.0 714.4 L581.8 713.3 L584.6 712.3 L587.4 711.3 L590.3 710.2 L593.1 709.2 L595.9 708.1 L598.7 707.0 L601.6 706.0 L604.4 704.9 L607.2 703.8 L610.0 702.7 L612.8 701.6 L615.6 700.5 L618.4 699.4 L621.2 698.3 L624.0 697.2 L626.8 696.0 L629.6 694.9 L632.4 693.8 L635.2 692.7 L638.0 691.5 L640.8 690.4 L643.6 689.2 L646.4 688.1 L649.2 686.9 L652.0 685.8 L654.8 684.6 L657.6 683.4 L660.4 682.3 L663.1 681.1 L665.9 679.9 L668.7 678.8 L671.5 677.6 L674.3 676.4 L677.1 675.2 L679.9 674.0 L682.6 672.9 L685.4 671.7 L688.2 670.5 L691.0 669.3 L693.8 668.1 L696.6 666.9 L699.3 665.7 L702.1 664.6 L704.9 663.4 L707.7 662.2 L710.5 661.0 L713.3 659.8 L716.0 658.6 L718.8 657.4 L721.6 656.2 L724.4 655.1 L727.2 653.9 L730.0 652.7 L732.8 651.5 L735.5 650.3 L738.3 649.1 L741.1 648.0 L743.9 646.8 L746.7 645.6 L749.5 644.4 L752.3 643.3 L755.1 642.1 L757.9 640.9 L760.6 639.8 L763.4 638.6 L766.2 637.5 L769.0 636.3 L771.8 635.2 L774.6 634.0 L777.4 632.9 L780.2 631.8 L783.0 630.6 L785.8 629.5 L788.6 628.4 L791.4 627.3 L794.3 626.2 L797.1 625.1 L799.9 623.9 L802.7 622.8 L805.5 621.7 L808.3 620.7 L811.1 619.6 L813.9 618.5 L816.8 617.4 L819.6 616.3 L822.4 615.2 L825.2 614.2 L828.0 613.1 L830.9 612.1 L833.7 611.0 L836.5 609.9 L839.3 608.9 L842.2 607.8 L845.0 606.8 L847.8 605.8 L850.7 604.7 L853.5 603.7 L856.3 602.7 L859.2 601.6 L862.0 600.6 L864.8 599.6 L867.7 598.6 L870.5 597.5 L873.4 596.5 L876.2 595.5 L879.1 594.5 L881.9 593.5 L884.7 592.5 L887.6 591.5 L890.4 590.5 L893.3 589.6 L896.1 588.6 L899.0 587.6 L901.8 586.6 L904.7 585.6 L907.5 584.7 L910.4 583.7 L913.2 582.7 L916.1 581.7 L919.0 580.8 L921.8 579.8 L924.7 578.9 L927.5 577.9 L930.4 577.0 L933.3 576.0 L936.1 575.1 L939.0 574.1 L941.8 573.2 L944.7 572.2 L947.6 571.3 L950.4 570.4 L953.3 569.4 L956.2 568.5 L959.0 567.6 L961.9 566.6 L964.8 565.7 L967.6 564.8 L970.5 563.9 L973.4 563.0 L976.3 562.0 L979.1 561.1 L982.0 560.2 L984.9 559.3 L987.8 558.4 L990.6 557.5 L993.5 556.6 L996.4 555.7 L999.3 554.8 L1002.1 553.9 L1005.0 553.0 L1007.9 552.1 L1010.8 551.2 L1013.7 550.3 L1016.5 549.4 L1019.4 548.5 L1022.3 547.6 L1025.2 546.8 L1028.1 545.9 L1031.0 545.0 L1033.8 544.1 L1036.7 543.2 L1039.6 542.4 L1042.5 541.5 L1045.4 540.6 L1048.3 539.7 L1051.2 538.9 L1054.0 538.0 L1056.9 537.1 L1059.8 536.2 L1062.7 535.4 L1065.6 534.5 L1068.5 533.6 L1071.4 532.8 L1074.3 531.9 L1077.2 531.0 L1080.1 530.2 L1082.9 529.3 L1085.8 528.5 L1088.7 527.6 L1091.6 526.7 L1094.5 525.9 L1097.4 525.0 L1100.3 524.2 L1103.2 523.3 L1106.1 522.5 L1109.0 521.6 L1111.9 520.7 L1114.8 519.9 L1117.7 519.0 L1120.6 518.2 L1123.5 517.3 L1126.4 516.5 L1129.3 515.6 L1132.2 514.8 L1135.1 513.9 L1137.9 513.1 L1140.8 512.2 L1143.7 511.4 L1146.6 510.5 L1149.5 509.7 L1152.4 508.8 L1155.3 508.0 L1158.2 507.1 L1161.1 506.3 L1164.0 505.4 L1166.9 504.6 L1169.8 503.7 L1172.7 502.9 L1175.6 502.0 L1178.5 501.2 L1181.4 500.3 L1184.3 499.5 L1187.2 498.6 L1190.1 497.7 L1193.0 496.9 L1195.9 496.0 L1198.8 495.2 L1201.7 494.3 L1204.6 493.5 L1207.5 492.6" stroke="#2a2a2a" stroke-width="3.2"/>
<path d="M388.0 750.9 L391.0 750.9 L394.0 750.9 L397.1 750.9 L400.1 751.0 L403.1 751.0 L406.1 751.0 L409.1 751.0 L412.1 751.0 L415.2 751.0 L418.2 751.0 L421.2 751.1 L424.2 751.1 L427.2 751.1 L430.3 751.1 L433.3 751.1 L436.3 751.2 L439.3 751.2 L442.3 751.2 L445.4 751.2 L448.4 751.2 L451.4 751.2 L454.4 751.2 L457.4 751.3 L460.5 751.3 L463.5 751.3 L466.5 751.3 L469.5 751.3 L472.5 751.3 L475.6 751.3 L478.6 751.3 L481.6 751.4 L484.6 751.4 L487.6 751.4 L490.7 751.4 L493.7 751.4 L496.7 751.4 L499.7 751.4 L502.7 751.4 L505.8 751.4 L508.8 751.4 L511.8 751.4 L514.8 751.3 L517.8 751.3 L520.8 751.3 L523.9 751.3 L526.9 751.3 L529.9 751.3 L532.9 751.2 L535.9 751.2 L539.0 751.2 L542.0 751.2 L545.0 751.1 L548.0 751.1 L551.0 751.1 L554.1 751.0 L557.1 751.0 L560.1 750.9 L563.1 750.9 L566.1 750.8 L569.1 750.8 L572.2 750.7 L575.2 750.6 L578.2 750.6 L581.2 750.5 L584.2 750.4 L587.2 750.4 L590.3 750.3 L593.3 750.2 L596.3 750.1 L599.3 750.0 L602.3 749.9 L605.3 749.8 L608.4 749.7 L611.4 749.6 L614.4 749.5 L617.4 749.4 L620.4 749.3 L623.4 749.1 L626.4 749.0 L629.5 748.9 L632.5 748.7 L635.5 748.6 L638.5 748.4 L641.5 748.3 L644.5 748.1 L647.5 748.0 L650.5 747.8 L653.6 747.6 L656.6 747.4 L659.6 747.3 L662.6 747.1 L665.6 746.9 L668.6 746.7 L671.6 746.5 L674.6 746.3 L677.6 746.1 L680.7 745.9 L683.7 745.7 L686.7 745.4 L689.7 745.2 L692.7 745.0 L695.7 744.8 L698.7 744.5 L701.7 744.3 L704.7 744.0 L707.7 743.8 L710.7 743.6 L713.8 743.3 L716.8 743.1 L719.8 742.8 L722.8 742.6 L725.8 742.3 L728.8 742.0 L731.8 741.8 L734.8 741.5 L737.8 741.2 L740.8 741.0 L743.8 740.7 L746.8 740.4 L749.8 740.2 L752.9 739.9 L755.9 739.6 L758.9 739.3 L761.9 739.1 L764.9 738.8 L767.9 738.5 L770.9 738.2 L773.9 738.0 L776.9 737.7 L779.9 737.4 L782.9 737.1 L785.9 736.8 L788.9 736.5 L791.9 736.3 L794.9 736.0 L798.0 735.7 L801.0 735.4 L804.0 735.1 L807.0 734.8 L810.0 734.5 L813.0 734.2 L816.0 733.9 L819.0 733.6 L822.0 733.3 L825.0 733.0 L828.0 732.7 L831.0 732.4 L834.0 732.1 L837.0 731.8 L840.0 731.5 L843.0 731.1 L846.0 730.8 L849.0 730.5 L852.0 730.2 L855.0 729.8 L858.0 729.5 L861.0 729.1 L864.0 728.8 L867.0 728.4 L870.0 728.1 L873.0 727.7 L876.0 727.4 L879.0 727.0 L882.0 726.6 L885.0 726.3 L888.0 725.9 L891.0 725.5 L893.9 725.1 L896.9 724.7 L899.9 724.3 L902.9 723.9 L905.9 723.5 L908.9 723.1 L911.9 722.7 L914.9 722.3 L917.9 721.9 L920.9 721.5 L923.8 721.1 L926.8 720.7 L929.8 720.3 L932.8 719.8 L935.8 719.4 L938.8 719.0 L941.8 718.5 L944.8 718.1 L947.7 717.7 L950.7 717.2 L953.7 716.8 L956.7 716.4 L959.7 715.9 L962.7 715.5 L965.7 715.0 L968.6 714.6 L971.6 714.1 L974.6 713.7 L977.6 713.2 L980.6 712.8 L983.6 712.3 L986.5 711.9 L989.5 711.4 L992.5 711.0 L995.5 710.5 L998.5 710.1 L1001.5 709.6 L1004.4 709.1 L1007.4 708.7 L1010.4 708.2 L1013.4 707.8 L1016.4 707.3 L1019.4 706.8 L1022.3 706.4 L1025.3 705.9 L1028.3 705.5 L1031.3 705.0 L1034.3 704.5 L1037.3 704.1 L1040.2 703.6 L1043.2 703.2 L1046.2 702.7 L1049.2 702.3 L1052.2 701.8 L1055.2 701.3 L1058.1 700.9 L1061.1 700.4 L1064.1 700.0 L1067.1 699.5 L1070.1 699.1 L1073.1 698.6 L1076.1 698.2 L1079.0 697.8 L1082.0 697.3 L1085.0 696.9 L1088.0 696.4 L1091.0 696.0 L1094.0 695.6 L1097.0 695.1 L1099.9 694.7 L1102.9 694.3 L1105.9 693.8 L1108.9 693.4 L1111.9 693.0 L1114.9 692.6 L1117.9 692.2 L1120.9 691.8 L1123.9 691.3 L1126.8 690.9 L1129.8 690.5 L1132.8 690.1 L1135.8 689.7 L1138.8 689.3 L1141.8 688.9 L1144.8 688.6 L1147.8 688.2 L1150.8 687.8 L1153.8 687.4 L1156.8 687.0 L1159.8 686.7 L1162.8 686.3 L1165.8 685.9 L1168.8 685.6 L1171.8 685.2 L1174.8 684.9 L1177.8 684.5 L1180.8 684.2 L1183.8 683.9 L1186.8 683.5 L1189.8 683.2 L1192.8 682.9 L1195.8 682.6 L1198.8 682.2 L1201.8 681.9 L1204.8 681.6 L1207.8 681.3" stroke="#2a2a2a" stroke-width="3.2"/>
<path d="M449.0 690.6 L449.9 689.5 L450.8 688.4 L451.6 687.2 L452.5 686.1 L453.3 684.9 L454.2 683.8 L455.1 682.7 L455.9 681.5 L456.8 680.4 L457.6 679.2 L458.5 678.1 L459.4 676.9 L460.2 675.8 L461.1 674.7 L461.9 673.5 L462.8 672.4 L463.7 671.2 L464.5 670.1 L465.4 668.9 L466.3 667.8 L467.1 666.7 L468.0 665.5 L468.9 664.4 L469.7 663.3 L470.6 662.1 L471.5 661.0 L472.4 659.9 L473.3 658.7 L474.1 657.6 L475.0 656.5 L475.9 655.4 L476.8 654.2 L477.7 653.1 L478.6 652.0" stroke="#3a3a8c" stroke-width="3.2"/>
<path d="M576.2 556.4 L577.3 555.5 L578.4 554.6 L579.6 553.8 L580.7 552.9 L581.8 552.0 L583.0 551.2 L584.1 550.3 L585.3 549.5 L586.4 548.6 L587.6 547.8 L588.7 546.9 L589.9 546.1 L591.0 545.2 L592.2 544.4 L593.3 543.6 L594.5 542.7 L595.7 541.9 L596.8 541.1 L598.0 540.2 L599.1 539.4 L600.3 538.6 L601.5 537.8 L602.7 537.0 L603.8 536.2 L605.0 535.3 L606.2 534.5 L607.4 533.7 L608.5 532.9 L609.7 532.1 L610.9 531.3 L612.1 530.6 L613.3 529.8 L614.5 529.0 L615.7 528.2 L616.9 527.4 L618.0 526.6 L619.2 525.9 L620.4 525.1 L621.6 524.3 L622.8 523.6 L624.0 522.8 L625.3 522.0 L626.5 521.3 L627.7 520.5 L628.9 519.8 L630.1 519.0 L631.3 518.3 L632.5 517.5 L633.7 516.8 L635.0 516.1 L636.2 515.3 L637.4 514.6 L638.6 513.9 L639.8 513.1 L641.1 512.4 L642.3 511.7 L643.5 511.0 L644.8 510.3 L646.0 509.6 L647.2 508.9 L648.5 508.1 L649.7 507.4 L650.9 506.7 L652.2 506.0 L653.4 505.3 L654.7 504.7 L655.9 504.0 L657.1 503.3 L658.4 502.6 L659.6 501.9 L660.9 501.2 L662.1 500.5 L663.4 499.9 L664.6 499.2 L665.9 498.5 L667.2 497.9 L668.4 497.2 L669.7 496.5 L670.9 495.9 L672.2 495.2 L673.5 494.6 L674.7 493.9 L676.0 493.3 L677.3 492.6 L678.5 492.0 L679.8 491.3 L681.1 490.7 L682.3 490.0 L683.6 489.4 L684.9 488.8 L686.2 488.1 L687.4 487.5 L688.7 486.9 L690.0 486.3 L691.3 485.6 L692.6 485.0 L693.9 484.4 L695.1 483.8 L696.4 483.2 L697.7 482.6 L699.0 481.9 L700.3 481.3 L701.6 480.7 L702.9 480.1 L704.2 479.5 L705.5 478.9 L706.8 478.3 L708.1 477.7 L709.4 477.2 L710.7 476.6 L712.0 476.0 L713.3 475.4 L714.6 474.8 L715.9 474.2 L717.2 473.6 L718.5 473.1 L719.8 472.5 L721.1 471.9 L722.4 471.3 L723.7 470.8 L725.0 470.2 L726.3 469.6 L727.6 469.1 L729.0 468.5 L730.3 468.0 L731.6 467.4" stroke="#3a3a8c" stroke-width="3.2"/>
<path d="M842.2 426.7 L843.6 426.3 L845.0 425.8 L846.3 425.4 L847.7 424.9 L849.1 424.5 L850.4 424.0 L851.8 423.6 L853.2 423.2 L854.5 422.7 L855.9 422.3 L857.3 421.8 L858.6 421.4 L860.0 421.0 L861.4 420.5 L862.8 420.1 L864.1 419.7 L865.5 419.2 L866.9 418.8 L868.2 418.4" stroke="#2a4f9a" stroke-width="3.2"/>
<path d="M1152.2 424.5 L1153.4 424.1 L1154.7 423.7 L1156.0 423.3 L1157.3 422.9 L1158.5 422.5 L1159.8 422.1 L1161.1 421.7 L1162.4 421.3 L1163.7 420.9 L1164.9 420.5 L1166.2 420.0 L1167.5 419.6 L1168.8 419.2 L1170.0 418.8 L1171.3 418.4 L1172.6 418.0 L1173.9 417.6 L1175.1 417.2 L1176.4 416.8 L1177.7 416.4 L1179.0 416.0 L1180.2 415.6 L1181.5 415.2 L1182.8 414.7" stroke="#1f6f62" stroke-width="3.2"/>
<path d="M1199.2 232.6 L1200.6 232.1 L1202.0 231.5 L1203.5 231.0 L1204.9 230.4 L1206.3 229.9 L1207.7 229.3" stroke="#3a3a3a" stroke-width="3.2"/>
<path d="M449.0 728.0 L450.1 727.2 L451.3 726.4 L452.4 725.6 L453.5 724.8 L454.6 724.1 L455.7 723.3 L456.9 722.5 L458.0 721.7 L459.1 720.9 L460.2 720.1 L461.4 719.3 L462.5 718.6 L463.6 717.8" stroke="#8a3050" stroke-width="3.2"/>
<path d="M449.1 737.0 L450.3 736.4 L451.5 735.9 L452.7 735.3 L453.9 734.7 L455.1 734.2 L456.2 733.6 L457.4 733.0 L458.6 732.4 L459.8 731.8 L461.0 731.2 L462.1 730.6 L463.3 729.9" stroke="#1f6f62" stroke-width="3.2"/>
<path d="M625.2 749.1 L626.4 749.0 L627.6 749.0 L628.9 748.9 L630.1 748.8 L631.3 748.8 L632.6 748.7 L633.8 748.7 L635.0 748.6 L636.3 748.5 L637.5 748.5 L638.7 748.4 L640.0 748.4 L641.2 748.3 L642.4 748.2 L643.7 748.2 L644.9 748.1 L646.1 748.0 L647.4 748.0 L648.6 747.9 L649.8 747.8 L651.1 747.8 L652.3 747.7 L653.5 747.6 L654.8 747.5 L656.0 747.5 L657.2 747.4 L658.5 747.3 L659.7 747.3 L660.9 747.2 L662.2 747.1 L663.4 747.0 L664.6 746.9 L665.9 746.9 L667.1 746.8 L668.3 746.7 L669.6 746.6 L670.8 746.5 L672.0 746.5 L673.3 746.4 L674.5 746.3 L675.7 746.2 L677.0 746.1 L678.2 746.0 L679.4 746.0 L680.7 745.9 L681.9 745.8 L683.1 745.7 L684.4 745.6 L685.6 745.5 L686.8 745.4 L688.1 745.3 L689.3 745.2 L690.5 745.1 L691.8 745.1 L693.0 745.0 L694.2 744.9 L695.5 744.8 L696.7 744.7 L697.9 744.6 L699.2 744.5" stroke="#6a1535" stroke-width="3.2"/>
<path d="M388 751 L1207.5 751" stroke="#262626" stroke-width="3"/>
</g>
<g fill="none" stroke="#0d0d0d" stroke-width="2.7">
<path d="M290.5 0 V795.4 H1372.6 V0" />
<path d="M289.2 1.3 H1374" />
</g>
<g fill="none" stroke="#111" stroke-width="2.6">
<path d="M290 751.0 H307.5" />
<path d="M290 574.6 H307.5" />
<path d="M290 398.2 H307.5" />
<path d="M290 221.9 H307.5" />
<path d="M290 45.5 H307.5" />
<path d="M373.3 795.5 V777.5" />
<path d="M539.9 795.5 V777.5" />
<path d="M706.5 795.5 V777.5" />
<path d="M873.1 795.5 V777.5" />
<path d="M1039.7 795.5 V777.5" />
<path d="M1206.3 795.5 V777.5" />
</g>
<g>
<text x="270" y="768.6" text-anchor="end">300</text>
<text x="270" y="592.2" text-anchor="end">500</text>
<text x="270" y="415.8" text-anchor="end">700</text>
<text x="270" y="239.5" text-anchor="end">900</text>
<text x="270" y="63.1" text-anchor="end">1 100</text>
<text x="374.5" y="852.8" text-anchor="middle">0</text>
<text x="541.1" y="852.8" text-anchor="middle">10</text>
<text x="707.7" y="852.8" text-anchor="middle">20</text>
<text x="874.3" y="852.8" text-anchor="middle">30</text>
<text x="1040.9" y="852.8" text-anchor="middle">40</text>
<text x="1207.5" y="852.8" text-anchor="middle">50</text>
<text x="1374.1" y="852.8" text-anchor="middle">60</text>
<text x="1220" y="97.5">0 mm</text>
<text x="1220" y="241.0">3 mm</text>
<text x="1220" y="324.5">5 mm</text>
<text x="1220" y="381.8">7 mm</text>
<text x="1220" y="418.7">8 mm</text>
<text x="1220" y="455.6">9 mm</text>
<text x="1220" y="507.7">12 mm</text>
<text x="1220" y="693.4">15 mm</text>
<text x="1220" y="763.2">25 mm</text>
<text x="825" y="928" text-anchor="middle"><tspan font-style="italic">t</tspan>/s</text>
<text transform="translate(118 402) rotate(-90)" text-anchor="middle"><tspan font-style="italic">T</tspan>/K</text>
</g>
</svg>
</body></html>
